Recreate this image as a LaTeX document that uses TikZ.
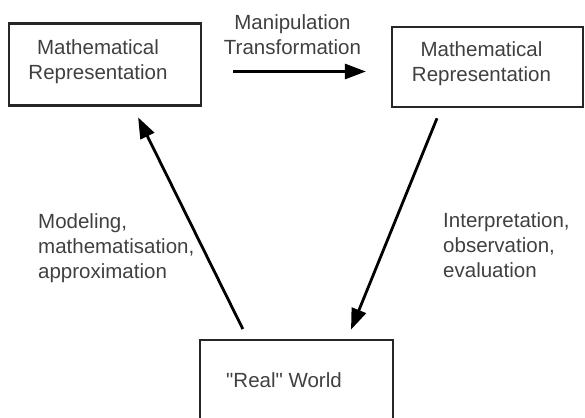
\documentclass[tikz,border=0pt]{standalone}
\usepackage{fontspec}
\setmainfont{Liberation Sans}
\usetikzlibrary{arrows.meta,calc}
\begin{document}
\begin{tikzpicture}[x=1pt,y=-1pt,
  box/.style={draw=black!85,line width=2.2pt,inner sep=0pt,minimum width=#1},
  txt/.style={text=black!75,font=\fontsize{20.5}{25}\selectfont,align=left,inner sep=0pt},
  ctxt/.style={txt,align=center},
  arr/.style={draw=black,line width=2.8pt,-{Triangle[length=21pt,width=15pt]}}]
\useasboundingbox (0,0) rectangle (585,417);
\clip (0,0) rectangle (585,417);
% boxes
\node[box=192pt,minimum height=82pt] (lb) at (105,64.5) {};
\node[box=191pt,minimum height=80pt] (rb) at (487.5,67) {};
\node[box=193pt,minimum height=100pt] (rw) at (296.5,390) {};
% box texts (anchor base = last line)
\node[ctxt,anchor=base] (lbt) at (98,80) {Mathematical\\Representation};
\node[ctxt,anchor=base] (rbt) at (481.5,82) {Mathematical\\Representation};
\node[txt,anchor=base west] (rwt) at (226,387) {\textquotedbl Real\textquotedbl{} World};
% labels
\node[ctxt,anchor=base] (mt) at (292.5,55) {Manipulation\\Transformation};
\node[txt,anchor=base west] (ml) at (38,278) {Modeling,\\mathematisation,\\approximation};
\node[txt,anchor=base west] (il) at (443,277) {Interpretation,\\observation,\\evaluation};
% connectors
\draw[arr,shorten <=31pt,shorten >=25pt] (lb.east |- 0,71.5) -- (rb.west |- 0,71.5);
\draw[arr,shorten <=11pt,shorten >=12pt] ($(rw.north west)!0.25!(rw.north east)$) -- ($(lb.south west)!0.643!(lb.south east)$);
\draw[arr,shorten <=11pt,shorten >=10pt] ($(rb.south west)!0.26!(rb.south east)$) -- ($(rw.north west)!0.76!(rw.north east)$);
\end{tikzpicture}
\end{document}
